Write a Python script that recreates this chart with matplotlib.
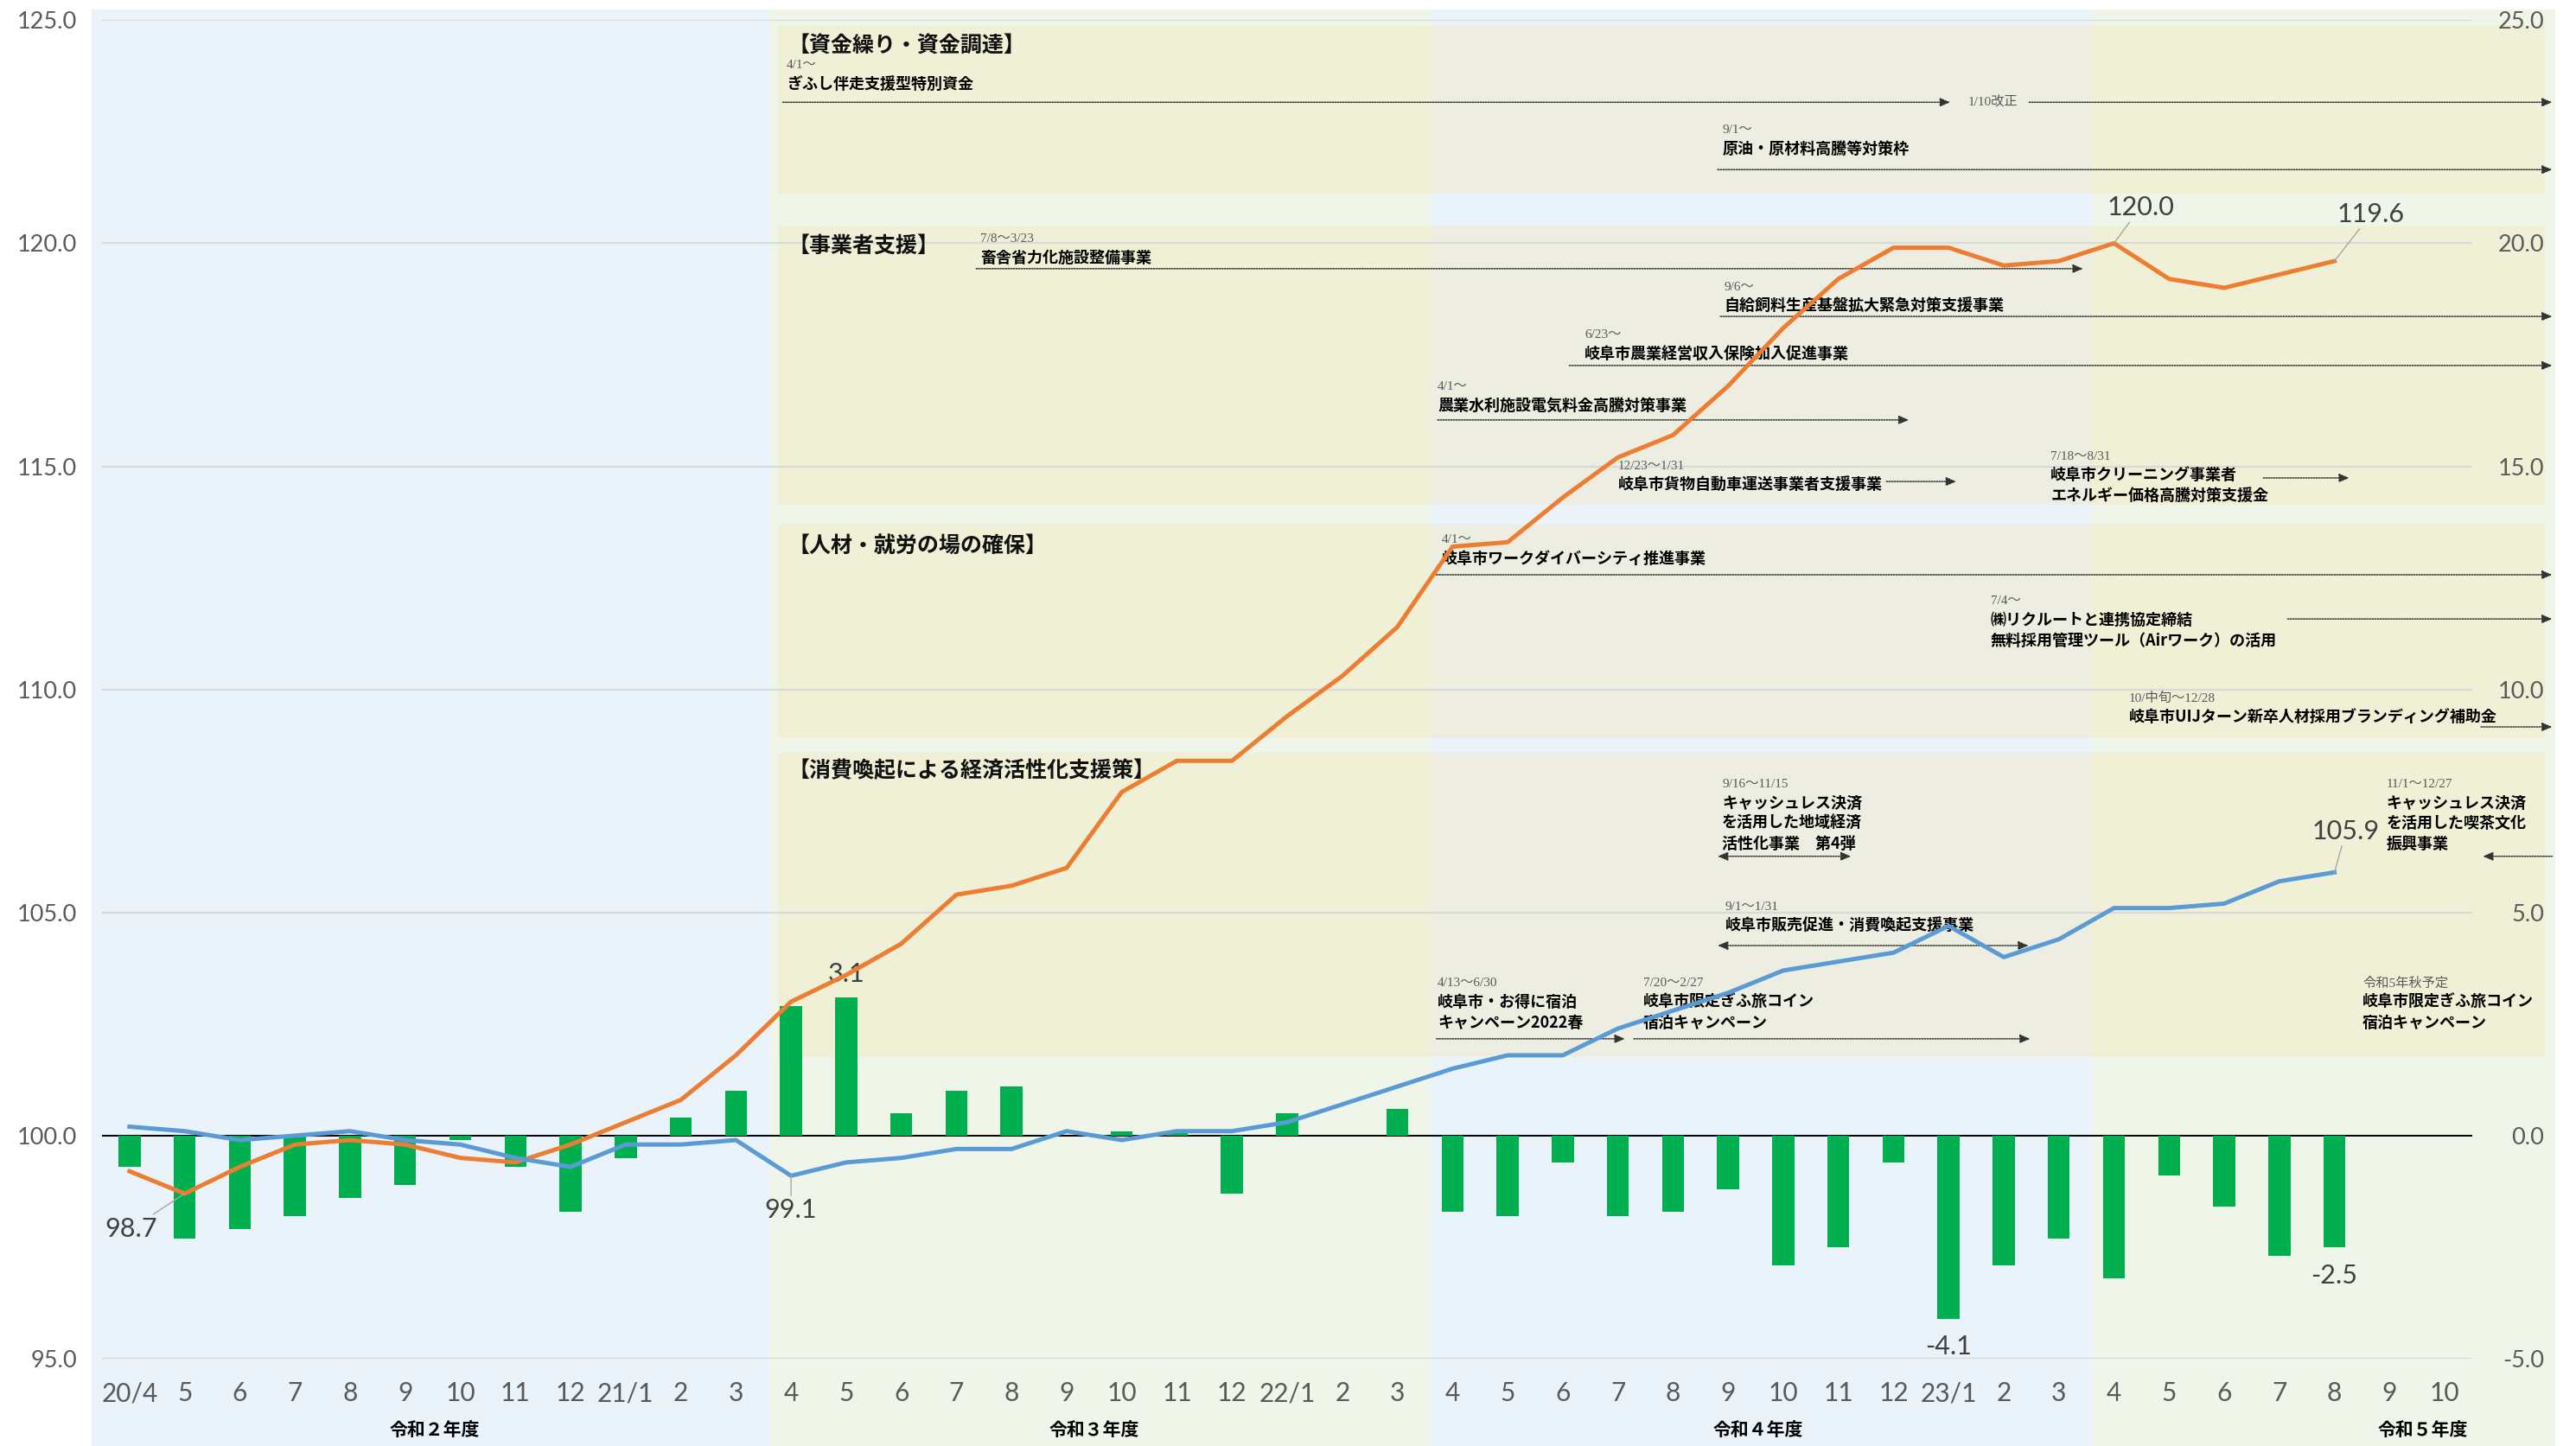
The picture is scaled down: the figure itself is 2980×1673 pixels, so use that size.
import matplotlib
matplotlib.use("Agg")
import matplotlib.pyplot as plt
import numpy as np
from matplotlib import font_manager
from matplotlib.patches import Rectangle
from matplotlib.transforms import blended_transform_factory

# ---- data ----
months = ['20/4', '5', '6', '7', '8', '9', '10', '11', '12', '21/1', '2', '3',
          '4', '5', '6', '7', '8', '9', '10', '11', '12', '22/1', '2', '3',
          '4', '5', '6', '7', '8', '9', '10', '11', '12', '23/1', '2', '3',
          '4', '5', '6', '7', '8', '9', '10']
nan = np.nan
# bars, right axis
bar_vals = [-0.7, -2.3, -2.1, -1.8, -1.4, -1.1, -0.1, -0.7, -1.7, -0.5, 0.4, 1.0,
            2.9, 3.1, 0.5, 1.0, 1.1, 0.0, 0.1, 0.1, -1.3, 0.5, 0.0, 0.6,
            -1.7, -1.8, -0.6, -1.8, -1.7, -1.2, -2.9, -2.5, -0.6, -4.1, -2.9, -2.3,
            -3.2, -0.9, -1.6, -2.7, -2.5, nan, nan]
# orange line, left axis
orange_vals = [99.2, 98.7, 99.3, 99.8, 99.9, 99.8, 99.5, 99.4, 99.8, 100.3, 100.8, 101.8,
               103.0, 103.6, 104.3, 105.4, 105.6, 106.0, 107.7, 108.4, 108.4, 109.4, 110.3, 111.4,
               113.2, 113.3, 114.3, 115.2, 115.7, 116.8, 118.1, 119.2, 119.9, 119.9, 119.5, 119.6,
               120.0, 119.2, 119.0, 119.3, 119.6, nan, nan]
# blue line, left axis
blue_vals = [100.2, 100.1, 99.9, 100.0, 100.1, 99.9, 99.8, 99.5, 99.3, 99.8, 99.8, 99.9,
             99.1, 99.4, 99.5, 99.7, 99.7, 100.1, 99.9, 100.1, 100.1, 100.3, 100.7, 101.1,
             101.5, 101.8, 101.8, 102.4, 102.8, 103.2, 103.7, 103.9, 104.1, 104.7, 104.0, 104.4,
             105.1, 105.1, 105.2, 105.7, 105.9, nan, nan]
fy_labels = ['令和２年度', '令和３年度', '令和４年度', '令和５年度']
fy_pos = [5.54, 17.5, 29.54, 41.6]

# labelled points: (index, dx, dy)
orange_labels = [(1, -0.97, -0.79), (36, 0.48, 0.8), (40, 0.66, 1.05)]
blue_labels = [(12, 0.0, -0.77), (40, 0.21, 0.92)]
bar_labels = [(13, 0.52), (33, -0.63), (40, -0.64)]

section_titles = [
    (11.95, 124.42, '【資金繰り・資金調達】'),
    (11.95, 119.93, '【事業者支援】'),
    (11.95, 113.21, '【人材・就労の場の確保】'),
    (11.95, 108.18, '【消費喚起による経済活性化支援策】'),
]

measures = [
    (11.92, 123.98, '4/1～', ['ぎふし伴走支援型特別資金']),
    (28.90, 122.54, '9/1～', ['原油・原材料高騰等対策枠']),
    (15.43, 120.09, '7/8～3/23', ['畜舎省力化施設整備事業']),
    (28.93, 119.02, '9/6～', ['自給飼料生産基盤拡大緊急対策支援事業']),
    (26.40, 117.95, '6/23～', ['岐阜市農業経営収入保険加入促進事業']),
    (23.73, 116.79, '4/1～', ['農業水利施設電気料金高騰対策事業']),
    (27.00, 115.01, '12/23～1/31', ['岐阜市貨物自動車運送事業者支援事業']),
    (34.85, 115.22, '7/18～8/31', ['岐阜市クリーニング事業者', 'エネルギー価格高騰対策支援金']),
    (23.81, 113.35, '4/1～', ['岐阜市ワークダイバーシティ推進事業']),
    (33.76, 111.97, '7/4～', ['㈱リクルートと連携協定締結', '無料採用管理ツール（Airワーク）の活用']),
    (36.27, 109.80, '10/中旬～12/28', ['岐阜市UIJターン新卒人材採用ブランディング補助金']),
    (28.89, 107.88, '9/16～11/15', ['キャッシュレス決済', 'を活用した地域経済', '活性化事業　第4弾']),
    (28.95, 105.13, '9/1～1/31', ['岐阜市販売促進・消費喚起支援事業']),
    (23.73, 103.41, '4/13～6/30', ['岐阜市・お得に宿泊', 'キャンペーン2022春']),
    (27.46, 103.41, '7/20～2/27', ['岐阜市限定ぎふ旅コイン', '宿泊キャンペーン']),
    (40.94, 107.88, '11/1～12/27', ['キャッシュレス決済', 'を活用した喫茶文化', '振興事業']),
    (40.51, 103.41, '令和5年秋予定', ['岐阜市限定ぎふ旅コイン', '宿泊キャンペーン']),
]

# arrows: (x start, x end, y, style)
arrows = [
    (11.85, 33.03, 123.16, '-|>'), (34.46, 43.95, 123.16, '-|>'),
    (28.81, 43.95, 121.65, '-|>'),
    (15.36, 35.44, 119.43, '-|>'),
    (28.86, 43.95, 118.36, '-|>'),
    (26.12, 43.95, 117.26, '-|>'),
    (23.73, 32.28, 116.04, '-|>'),
    (31.87, 33.14, 114.66, '-|>'),
    (38.71, 40.27, 114.74, '-|>'),
    (23.66, 43.95, 112.57, '-|>'),
    (39.15, 43.95, 111.58, '-|>'),
    (42.66, 43.95, 109.16, '-|>'),
    (28.81, 31.23, 106.26, '<|-|>'),
    (28.81, 34.45, 104.26, '<|-|>'),
    (23.71, 27.13, 102.17, '-|>'),
    (27.29, 34.48, 102.17, '-|>'),
    (43.95, 42.69, 106.26, '-|>'),
]

panels = [(121.11, 124.89), (114.14, 120.39), (108.91, 113.69), (101.76, 108.58)]

# ---- fonts ----
names = {f.name for f in font_manager.fontManager.ttflist}
if 'Liberation Sans Narrow' in names:
    NARROW, tick_size, lab_size = 'Liberation Sans Narrow', 26, 27
else:
    NARROW, tick_size, lab_size = 'Lato', 21.5, 22
plt.rcParams['font.family'] = ['Noto Sans CJK JP', 'DejaVu Sans']
SERIF = ['Liberation Serif', 'Noto Sans CJK JP']
GRAY = '#595959'

x = np.arange(len(months))

fig = plt.figure(figsize=(29.8, 16.73), dpi=100)
ax = fig.add_axes([0.0396, 0.06037, 0.92013, 0.92570])
axl = ax.twinx()
ax.yaxis.tick_right()
axl.yaxis.tick_left()
ax.patch.set_visible(False)
for a in (ax, axl):
    for s in a.spines.values():
        s.set_visible(False)

ax.set_xlim(-0.5, 42.5)
ax.set_ylim(-5, 25)
axl.set_ylim(95, 125)

# background bands by fiscal year
band_tr = blended_transform_factory(ax.transData, fig.transFigure)
edges = [-0.69, 11.62, 23.6, 35.6, 44.0]
band_cols = ['#EAF2FA', '#F0F5EA', '#EAF2FA', '#F0F5EA']
for i in range(4):
    ax.add_patch(Rectangle((edges[i], 0), edges[i + 1] - edges[i], 0.99342,
                           transform=band_tr, color=band_cols[i], lw=0,
                           zorder=0.1, clip_on=False))

# section panels
seg = [(11.76, 23.6, '#EFF0D6'), (23.6, 35.6, '#EDEDE2'), (35.6, 43.82, '#EFF0D6')]
for y0, y1 in panels:
    for s0, s1, c in seg:
        ax.add_patch(Rectangle((s0, y0), s1 - s0, y1 - y0, transform=axl.transData,
                               color=c, lw=0, zorder=0.3, clip_on=False))

# grid + zero line
ax.set_yticks(np.arange(-5, 26, 5))
axl.set_yticks(np.arange(95, 126, 5))
ax.set_axisbelow(True)
ax.yaxis.grid(True, color='#D9D9D9', lw=1.6)
ax.axhline(0, color='black', lw=1.4, zorder=1.5)

# bars and lines
ax.bar(x, bar_vals, width=0.4, color='#00B050', zorder=2)
axl.plot(x, orange_vals, color='#ED7D31', lw=3.6, zorder=4)
axl.plot(x, blue_vals, color='#5B9BD5', lw=3.6, zorder=4)

# ticks
ax.set_xticks(x, months)
ax.tick_params(axis='x', length=0, pad=19, labelsize=tick_size, labelcolor=GRAY)
for t in ax.get_xticklabels():
    t.set_fontfamily(NARROW)
ax.tick_params(axis='y', length=0, pad=60, labelsize=19.5, labelcolor=GRAY)
axl.tick_params(axis='y', length=0, pad=21, labelsize=19.5, labelcolor=GRAY)
ax.set_yticklabels([f'{v:.1f}' for v in np.arange(-5, 26, 5)])
axl.set_yticklabels([f'{v:.1f}' for v in np.arange(95, 126, 5)])
for t in ax.get_yticklabels():
    t.set_fontfamily('Lato')
    t.set_horizontalalignment('right')
for t in axl.get_yticklabels():
    t.set_fontfamily('Lato')

for lab, p in zip(fy_labels, fy_pos):
    ax.text(p, 0.0108, lab, transform=band_tr, ha='center', va='center',
            fontsize=15, fontweight='bold', color='black')

# data labels
lab_kw = dict(fontsize=lab_size, color='#404040', family=NARROW, ha='center', va='center')
lead = dict(arrowstyle='-', color='#A6A6A6', lw=1.0, shrinkA=0, shrinkB=0)
for i, dx, dy in orange_labels:
    axl.annotate(f'{orange_vals[i]:.1f}', xy=(i, orange_vals[i]),
                 xytext=(i + dx, orange_vals[i] + dy), arrowprops=lead, zorder=5, **lab_kw)
for i, dx, dy in blue_labels:
    axl.annotate(f'{blue_vals[i]:.1f}', xy=(i, blue_vals[i]),
                 xytext=(i + dx, blue_vals[i] + dy), arrowprops=lead, zorder=5, **lab_kw)
for i, dy in bar_labels:
    ax.text(i, bar_vals[i] + dy, f'{bar_vals[i]:.1f}', zorder=5, **lab_kw)

# section titles and measures
for tx, ty, t in section_titles:
    axl.text(tx, ty, t, fontsize=18, fontweight='bold', color='#111111',
             ha='left', va='center', zorder=3)
for mx, my, date, lines in measures:
    axl.text(mx, my, date, fontsize=11, family=SERIF, color=GRAY,
             ha='left', va='center', zorder=3)
    for k, ln in enumerate(lines):
        axl.text(mx, my - 0.42 - 0.46 * k, ln, fontsize=13, fontweight='bold',
                 color='black', ha='left', va='center', zorder=3)
axl.text(33.35, 123.16, '1/10改正', fontsize=11, family=SERIF, color=GRAY,
         ha='left', va='center', zorder=3)

for x0, x1, y, st in arrows:
    axl.annotate('', xy=(x1, y), xytext=(x0, y), annotation_clip=False, zorder=3,
                 arrowprops=dict(arrowstyle=st + ',head_length=0.7,head_width=0.3',
                                 color='#333333', lw=1.1, ls=(0, (1, 1)),
                                 shrinkA=0, shrinkB=0))

fig.savefig('out.png', dpi=100)
